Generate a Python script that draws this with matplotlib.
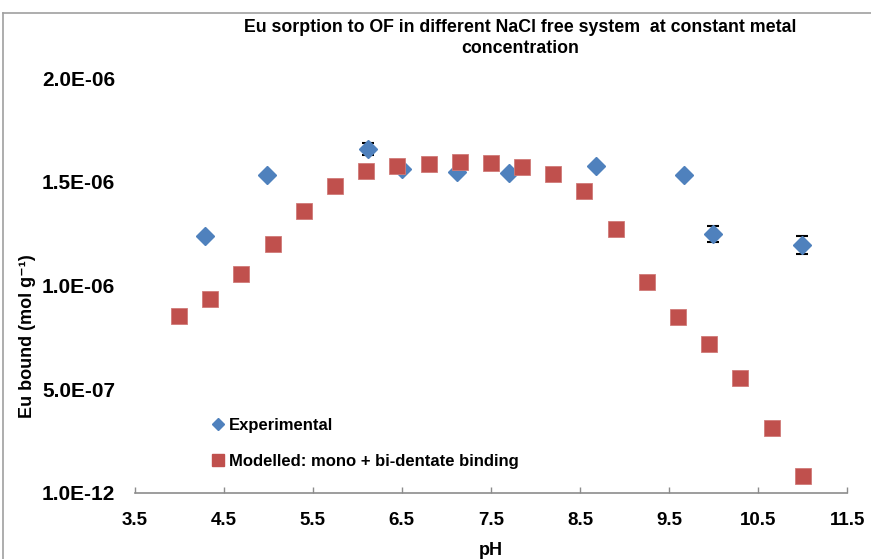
import matplotlib
matplotlib.use("Agg")
import matplotlib.pyplot as plt
from matplotlib.lines import Line2D

plt.rcParams['font.family'] = ['Liberation Sans', 'DejaVu Sans']

# Data
exp_ph = [4.29, 4.99, 6.12, 6.50, 7.12, 7.70, 8.68, 9.67, 9.99, 10.99]
exp_bound = [1.239e-6, 1.533e-6, 1.658e-6, 1.560e-6, 1.548e-6, 1.544e-6,
             1.577e-6, 1.533e-6, 1.248e-6, 1.195e-6]
exp_err = [0, 0, 0.03e-6, 0, 0, 0, 0, 0, 0.04e-6, 0.044e-6]

mod_ph = [4.00, 4.35, 4.70, 5.05, 5.40, 5.75, 6.10, 6.45, 6.80, 7.15, 7.50,
          7.85, 8.20, 8.55, 8.90, 9.25, 9.60, 9.95, 10.30, 10.65, 11.00]
mod_bound = [0.853e-6, 0.935e-6, 1.055e-6, 1.200e-6, 1.359e-6, 1.480e-6,
             1.552e-6, 1.576e-6, 1.586e-6, 1.595e-6, 1.590e-6, 1.571e-6,
             1.537e-6, 1.455e-6, 1.272e-6, 1.017e-6, 0.848e-6, 0.718e-6,
             0.554e-6, 0.313e-6, 0.082e-6]

x_ticks = [3.5, 4.5, 5.5, 6.5, 7.5, 8.5, 9.5, 10.5, 11.5]
y_ticks = [1e-12, 5e-7, 1e-6, 1.5e-6, 2e-6]
y_tick_labels = ['1.0E-12', '5.0E-07', '1.0E-06', '1.5E-06', '2.0E-06']

title = "Eu sorption to OF in different NaCl free system  at constant metal\nconcentration"

W, H = 871, 559
fig = plt.figure(figsize=(W / 100, H / 100), dpi=100)
ax = fig.add_axes([134.5 / W, (H - 493) / H, (847.3 - 134.5) / W, (493 - 78) / H])

blue = '#4F81BD'
red = '#C0504D'

ax.errorbar(exp_ph, exp_bound, yerr=exp_err, fmt='none', ecolor='black',
            elinewidth=1.2, capsize=4, capthick=1.5, zorder=2)
ax.plot(exp_ph, exp_bound, linestyle='none', marker='D', markersize=9,
        color=blue, markeredgecolor=blue, zorder=3)
ax.plot(mod_ph, mod_bound, linestyle='none', marker='s', markersize=12,
        color=red, markeredgecolor='#D07A78', markeredgewidth=0.6, zorder=4)

ax.set_xlim(3.5, 11.5)
ax.set_ylim(1e-12, 2e-6)
ax.set_xticks(x_ticks)
ax.set_xticklabels([str(t) for t in x_ticks])
ax.set_yticks(y_ticks)
ax.set_yticklabels(y_tick_labels)

for s in ['top', 'right', 'left']:
    ax.spines[s].set_visible(False)
ax.spines['bottom'].set_color('#8C8C8C')
ax.spines['bottom'].set_linewidth(1.2)
ax.tick_params(axis='x', direction='in', length=4.5, color='#8C8C8C', width=1,
               pad=14, labelsize=13.5)
ax.tick_params(axis='y', length=0, pad=14, labelsize=15)
for lab in ax.get_xticklabels() + ax.get_yticklabels():
    lab.set_fontweight('bold')

ax.set_xlabel('pH', fontsize=13, fontweight='bold', labelpad=9)
fig.text(27 / W, 1 - 336 / H, 'Eu bound (mol g\u207b\u00b9)', rotation=90,
         ha='center', va='center', fontsize=13, fontweight='bold')

fig.text(520 / W, 1 - 38 / H, title, ha='center', va='center', fontsize=12.8,
         fontweight='bold', linespacing=1.25)

handles = [Line2D([], [], linestyle='none', marker='D', markersize=6, color=blue),
           Line2D([], [], linestyle='none', marker='s', markersize=8, color=red)]
fig.legend(handles, ['Experimental', 'Modelled: mono + bi-dentate binding'],
           loc='upper left', bbox_to_anchor=(212 / W, 1 - 418 / H), frameon=False,
           prop={'weight': 'bold', 'size': 12}, handlelength=0.7,
           handletextpad=0.3, labelspacing=1.25, borderaxespad=0, borderpad=0)

# chart area border
fig.add_artist(Line2D([3 / W, 3 / W], [0, 1 - 13 / H], transform=fig.transFigure,
                      color='#A0A0A0', linewidth=1.2))
fig.add_artist(Line2D([3 / W, 1], [1 - 13 / H, 1 - 13 / H], transform=fig.transFigure,
                      color='#A0A0A0', linewidth=1.2))

fig.savefig('out.png', dpi=100)
